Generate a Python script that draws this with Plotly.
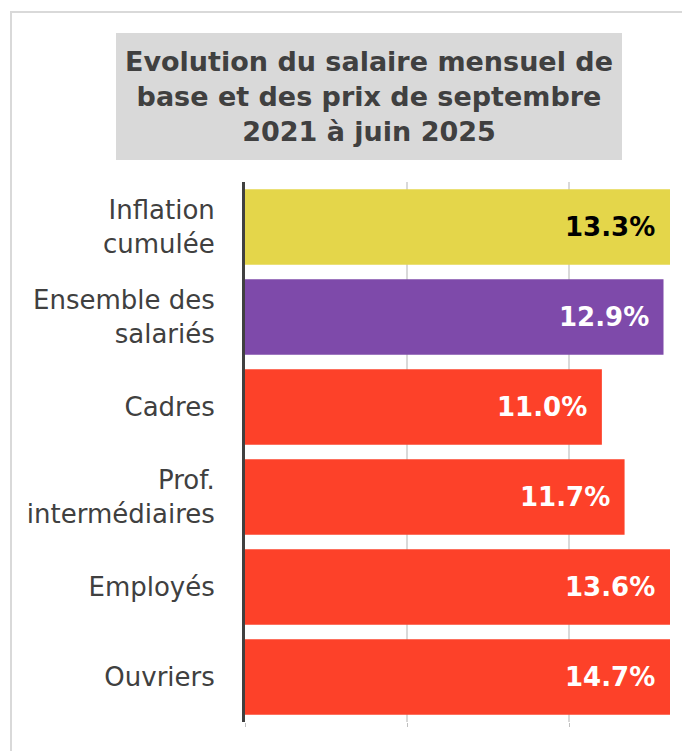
import plotly.graph_objects as go

categories = [
    "Inflation<br>cumulée",
    "Ensemble des<br>salariés",
    "Cadres",
    "Prof.<br>intermédiaires",
    "Employés",
    "Ouvriers",
]
values = [13.3, 12.9, 11.0, 11.7, 13.6, 14.7]
bar_colors = ["#E4D64A", "#7E4AAA", "#FD4129", "#FD4129", "#FD4129", "#FD4129"]
label_colors = ["#000000", "#FFFFFF", "#FFFFFF", "#FFFFFF", "#FFFFFF", "#FFFFFF"]

X_MAX = 13.1
OFF = 8  # page body margin
W, H = 690 - OFF, 751 - OFF
L, R, T, B = 245 - OFF, 20, 182 - OFF, 29
FONT = "DejaVu Sans"


def px_x(px):
    return (px - OFF - L) / (W - L - R)


def px_y(py):
    return (H - B - (py - OFF)) / (H - T - B)


fig = go.Figure()
fig.add_trace(
    go.Bar(
        x=values,
        y=categories,
        orientation="h",
        marker=dict(color=bar_colors, line=dict(width=0)),
        cliponaxis=True,
        hoverinfo="skip",
    )
)

for cat, v, c in zip(categories, values, label_colors):
    fig.add_annotation(
        x=min(v, X_MAX) - 0.4,
        y=cat,
        xref="x",
        yref="y",
        text="<b>%.1f%%</b>" % v,
        showarrow=False,
        xanchor="right",
        yanchor="middle",
        font=dict(family=FONT, size=26, color=c),
    )

# outer frame
fig.add_shape(
    type="rect", xref="paper", yref="paper",
    x0=px_x(11), x1=px_x(700), y0=px_y(760), y1=px_y(12),
    line=dict(color="#D9D9D9", width=2), fillcolor="rgba(0,0,0,0)", layer="below",
)
# title background
fig.add_shape(
    type="rect", xref="paper", yref="paper",
    x0=px_x(116), x1=px_x(622), y0=px_y(160), y1=px_y(33),
    line=dict(width=0), fillcolor="#D9D9D9", layer="below",
)
fig.add_annotation(
    x=px_x(369), y=px_y(97), xref="paper", yref="paper",
    text="<b>Evolution du salaire mensuel de<br>base et des prix de septembre<br>2021 à juin 2025</b>",
    showarrow=False, xanchor="center", yanchor="middle", align="center",
    font=dict(family=FONT, size=27, color="#404040"),
)

fig.update_layout(
    width=W, height=H,
    margin=dict(l=L, r=R, t=T, b=B),
    paper_bgcolor="white", plot_bgcolor="white",
    showlegend=False,
    bargap=0.16,
    font=dict(family=FONT, color="#404040"),
)
fig.update_xaxes(
    range=[0, X_MAX], dtick=5, showticklabels=False,
    showgrid=True, gridcolor="#D9D9D9", gridwidth=1.5,
    zeroline=False, fixedrange=True,
    ticks="outside", ticklen=4, tickcolor="#BFBFBF",
)
fig.update_yaxes(
    autorange="reversed", showline=True, linecolor="#404040", linewidth=3,
    tickfont=dict(family=FONT, size=26, color="#404040"),
    ticklabelstandoff=22, fixedrange=True,
)

fig.write_html("out.html")
